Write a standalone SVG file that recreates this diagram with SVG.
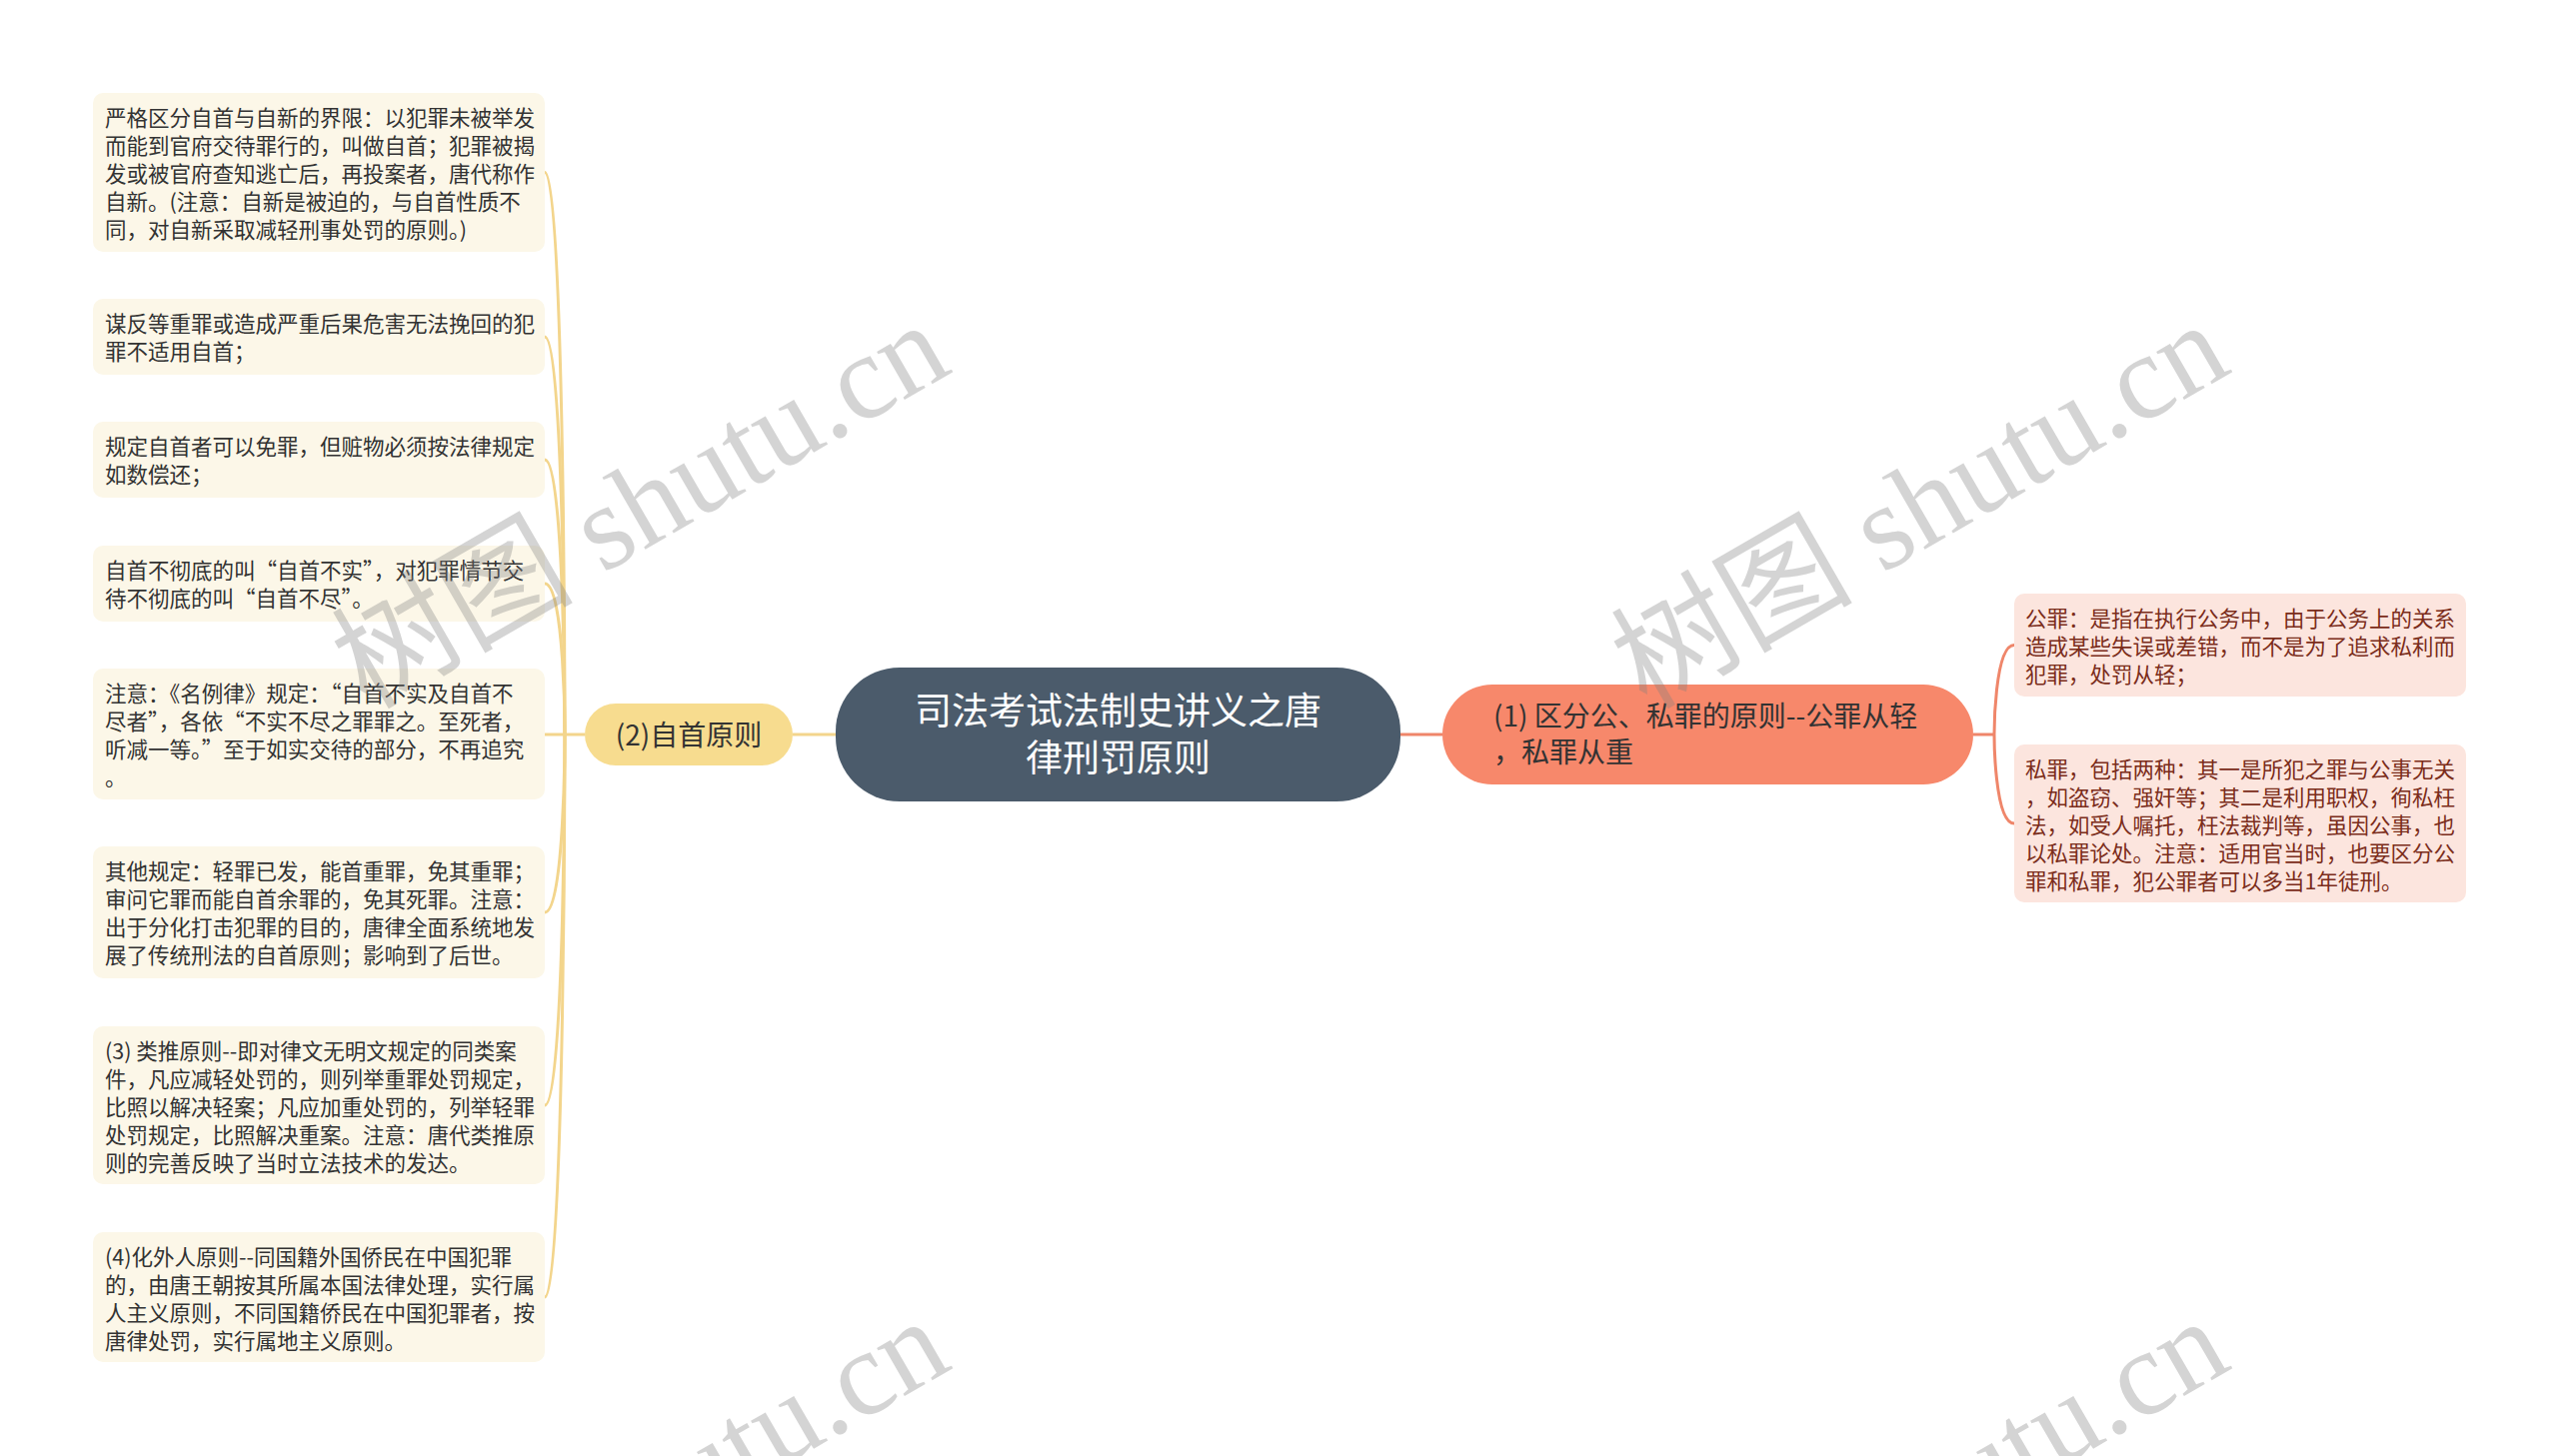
<svg xmlns="http://www.w3.org/2000/svg" width="2560" height="1457" viewBox="0 0 2560 1457">
<style>
.t{font-family:"Noto Sans CJK SC","Liberation Sans",sans-serif}
.leafY{fill:#fcf7e8}
.leafR{fill:#fce5de}
.lt{font-size:21.5px;fill:#333333}
.rt{font-size:21.5px;fill:#7b2d1b}
.cy{fill:none;stroke:#f3d58c;stroke-width:3}
.cr{fill:none;stroke:#ef866a;stroke-width:3}
.wm{font-family:"Liberation Serif","Noto Sans CJK SC",serif;font-size:121px;fill:#808080;opacity:0.33}
</style>
<rect x="0" y="0" width="2560" height="1457" fill="#ffffff"/>
<g id="connectors">
<line class="cy" x1="836" y1="735" x2="793" y2="735"/>
<line class="cr" x1="1401" y1="735" x2="1443" y2="735"/>
<path class="cy" d="M585 735 H545"/>
<path class="cy" d="M545 172.5 C565 172.5 565 735 565 735"/>
<path class="cy" d="M545 337 C565 337 565 735 565 735"/>
<path class="cy" d="M545 460 C565 460 565 735 565 735"/>
<path class="cy" d="M545 584 C565 584 565 735 565 735"/>
<path class="cy" d="M545 913 C565 913 565 735 565 735"/>
<path class="cy" d="M545 1106 C565 1106 565 735 565 735"/>
<path class="cy" d="M545 1298 C565 1298 565 735 565 735"/>
<path class="cr" d="M1974 735 H1995"/>
<path class="cr" d="M2015 645.5 C1995 645.5 1995 735 1995 735"/>
<path class="cr" d="M2015 824 C1995 824 1995 735 1995 735"/>
</g>
<g id="root">
<rect x="836" y="668" width="565" height="134" rx="64" fill="#4b5b6b"/>
<text class="t" font-size="37" fill="#ffffff" text-anchor="middle" x="1118.5" y="725">司法考试法制史讲义之唐</text>
<text class="t" font-size="37" fill="#ffffff" text-anchor="middle" x="1118.5" y="772">律刑罚原则</text>
</g>
<g id="n-zishou">
<rect x="585" y="704" width="208" height="62" rx="31" fill="#f7dc8f"/>
<text class="t" font-size="28" fill="#333333" text-anchor="middle" x="689" y="746">(2)自首原则</text>
</g>
<g id="n-gongsi">
<rect x="1443" y="685" width="531" height="100" rx="50" fill="#f7886b"/>
<text class="t" font-size="28" fill="#333333" x="1494" y="727">(1) 区分公、私罪的原则--公罪从轻</text>
<text class="t" font-size="28" fill="#333333" x="1494" y="763">，私罪从重</text>
</g>
<g id="l1">
<rect class="leafY" x="93" y="93" width="452" height="159" rx="10"/>
<text class="t lt"><tspan x="105" y="126">严格区分自首与自新的界限：以犯罪未被举发</tspan><tspan x="105" y="154">而能到官府交待罪行的，叫做自首；犯罪被揭</tspan><tspan x="105" y="182">发或被官府查知逃亡后，再投案者，唐代称作</tspan><tspan x="105" y="210">自新。(注意：自新是被迫的，与自首性质不</tspan><tspan x="105" y="238">同，对自新采取减轻刑事处罚的原则。)</tspan></text>
</g>
<g id="l2">
<rect class="leafY" x="93" y="299" width="452" height="76" rx="10"/>
<text class="t lt"><tspan x="105" y="332">谋反等重罪或造成严重后果危害无法挽回的犯</tspan><tspan x="105" y="360">罪不适用自首；</tspan></text>
</g>
<g id="l3">
<rect class="leafY" x="93" y="422" width="452" height="76" rx="10"/>
<text class="t lt"><tspan x="105" y="455">规定自首者可以免罪，但赃物必须按法律规定</tspan><tspan x="105" y="483">如数偿还；</tspan></text>
</g>
<g id="l4">
<rect class="leafY" x="93" y="546" width="452" height="76" rx="10"/>
<text class="t lt"><tspan x="105" y="579">自首不彻底的叫“自首不实”，对犯罪情节交</tspan><tspan x="105" y="607">待不彻底的叫“自首不尽”。</tspan></text>
</g>
<g id="l5">
<rect class="leafY" x="93" y="669" width="452" height="131" rx="10"/>
<text class="t lt"><tspan x="105" y="702">注意：《名例律》规定：“自首不实及自首不</tspan><tspan x="105" y="730">尽者”，各依“不实不尽之罪罪之。至死者，</tspan><tspan x="105" y="758">听减一等。”至于如实交待的部分，不再追究</tspan><tspan x="105" y="786">。</tspan></text>
</g>
<g id="l6">
<rect class="leafY" x="93" y="847" width="452" height="132" rx="10"/>
<text class="t lt"><tspan x="105" y="880">其他规定：轻罪已发，能首重罪，免其重罪；</tspan><tspan x="105" y="908">审问它罪而能自首余罪的，免其死罪。注意：</tspan><tspan x="105" y="936">出于分化打击犯罪的目的，唐律全面系统地发</tspan><tspan x="105" y="964">展了传统刑法的自首原则；影响到了后世。</tspan></text>
</g>
<g id="l7">
<rect class="leafY" x="93" y="1027" width="452" height="158" rx="10"/>
<text class="t lt"><tspan x="105" y="1060">(3) 类推原则--即对律文无明文规定的同类案</tspan><tspan x="105" y="1088">件，凡应减轻处罚的，则列举重罪处罚规定，</tspan><tspan x="105" y="1116">比照以解决轻案；凡应加重处罚的，列举轻罪</tspan><tspan x="105" y="1144">处罚规定，比照解决重案。注意：唐代类推原</tspan><tspan x="105" y="1172">则的完善反映了当时立法技术的发达。</tspan></text>
</g>
<g id="l8">
<rect class="leafY" x="93" y="1233" width="452" height="130" rx="10"/>
<text class="t lt"><tspan x="105" y="1266">(4)化外人原则--同国籍外国侨民在中国犯罪</tspan><tspan x="105" y="1294">的，由唐王朝按其所属本国法律处理，实行属</tspan><tspan x="105" y="1322">人主义原则，不同国籍侨民在中国犯罪者，按</tspan><tspan x="105" y="1350">唐律处罚，实行属地主义原则。</tspan></text>
</g>
<g id="r1">
<rect class="leafR" x="2015" y="594" width="452" height="103" rx="10"/>
<text class="t rt"><tspan x="2026" y="627">公罪：是指在执行公务中，由于公务上的关系</tspan><tspan x="2026" y="655">造成某些失误或差错，而不是为了追求私利而</tspan><tspan x="2026" y="683">犯罪，处罚从轻；</tspan></text>
</g>
<g id="r2">
<rect class="leafR" x="2015" y="745" width="452" height="158" rx="10"/>
<text class="t rt"><tspan x="2026" y="778">私罪，包括两种：其一是所犯之罪与公事无关</tspan><tspan x="2026" y="806">，如盗窃、强奸等；其二是利用职权，徇私枉</tspan><tspan x="2026" y="834">法，如受人嘱托，枉法裁判等，虽因公事，也</tspan><tspan x="2026" y="862">以私罪论处。注意：适用官当时，也要区分公</tspan><tspan x="2026" y="890">罪和私罪，犯公罪者可以多当1年徒刑。</tspan></text>
</g>
<g id="watermarks">
<text class="wm" text-anchor="middle" transform="translate(661 541) rotate(-30)">树图 shutu.cn</text>
<text class="wm" text-anchor="middle" transform="translate(1941 541) rotate(-30)">树图 shutu.cn</text>
<text class="wm" text-anchor="middle" transform="translate(661 1538) rotate(-30)">树图 shutu.cn</text>
<text class="wm" text-anchor="middle" transform="translate(1941 1538) rotate(-30)">树图 shutu.cn</text>
</g>
</svg>
